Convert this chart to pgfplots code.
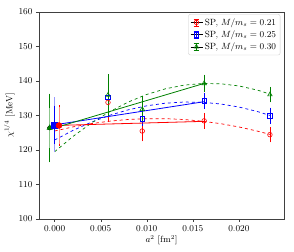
\documentclass[border=0pt]{standalone}
\usepackage{pgfplots}
\pgfplotsset{compat=1.18}
\definecolor{mgreen}{RGB}{0,128,0}
\newcommand\errleg[3]{%
  \addlegendimage{legend image code/.code={%
    \path (0cm,0cm) -- (0.42cm,0cm);
    \draw[#1, line width=0.6pt] (0.2cm,-0.12cm) -- (0.2cm,0.12cm);
    \draw[#1, line width=0.6pt] (0.1cm,-0.12cm) -- (0.3cm,-0.12cm);
    \draw[#1, line width=0.6pt] (0.1cm,0.12cm) -- (0.3cm,0.12cm);
    \draw[#1, line width=0.6pt] plot[mark=#2, mark size=#3] coordinates {(0.2cm,0cm)};
  }}}
\begin{document}
\begin{tikzpicture}
\begin{axis}[
  scale only axis, width=245pt, height=207pt,
  xmin=-0.0017, xmax=0.0249, ymin=100, ymax=160,
  xtick={0,0.005,0.01,0.015,0.02},
  scaled x ticks=false,
  xticklabel style={/pgf/number format/.cd, fixed, fixed zerofill, precision=3},
  ytick={100,110,...,160},
  tick align=outside, tick pos=left,
  major tick length=3pt,
  axis line style={black!75},
  every tick/.style={black!75},
  font=\small,
  xlabel={$a^2$ [fm$^2$]},
  ylabel={$\chi^{1/4}$ [MeV]},
  xlabel style={yshift=3pt},
  ylabel style={yshift=-3pt},
  legend style={at={(0.985,0.99)}, anchor=north east, draw=black!20, rounded corners=2pt, font=\small, cells={anchor=west}, row sep=0pt, inner sep=2pt},
]
\errleg{red}{o}{2.3pt}
\addlegendentry{SP, $M/m_s=0.21$}
\errleg{blue}{square}{2.3pt}
\addlegendentry{SP, $M/m_s=0.25$}
\errleg{mgreen}{triangle}{2.6pt}
\addlegendentry{SP, $M/m_s=0.30$}
% finite lattice spacing points
\addplot[forget plot, only marks, red, mark=o, mark size=2.3pt, mark options={line width=0.6pt},
  error bars/.cd, y dir=both, y explicit, error bar style={line width=0.6pt}, error mark options={mark size=3pt, line width=0.6pt}]
  coordinates {(0.00579,133.8) +- (0,4.8) (0.00951,125.5) +- (0,2.1) (0.01623,128.45) +- (0,1.45) (0.02337,124.45) +- (0,1.35)};
\addplot[forget plot, only marks, blue, mark=square, mark size=2.3pt, mark options={line width=0.6pt},
  error bars/.cd, y dir=both, y explicit, error bar style={line width=0.6pt}, error mark options={mark size=3pt, line width=0.6pt}]
  coordinates {(0.00579,135.3) +- (0,4.7) (0.00951,129.0) +- (0,1.2) (0.01623,134.2) +- (0,1.4) (0.02337,129.95) +- (0,1.45)};
\addplot[forget plot, only marks, mgreen, mark=triangle, mark size=2.6pt, mark options={line width=0.6pt},
  error bars/.cd, y dir=both, y explicit, error bar style={line width=0.6pt}, error mark options={mark size=3pt, line width=0.6pt}]
  coordinates {(0.00579,135.9) +- (0,5.2) (0.00951,131.8) +- (0,2.9) (0.01623,139.3) +- (0,1.7) (0.02337,136.05) +- (0,1.35)};
% quadratic fits (dashed)
\addplot[forget plot, red, dashed, line width=0.7pt] coordinates {
 (0,125.5) (0.002,126.70) (0.004,127.65) (0.006,128.37) (0.008,128.85) (0.010,129.08) (0.012,129.08)
 (0.014,128.84) (0.016,128.36) (0.018,127.64) (0.020,126.68) (0.022,125.48) (0.0234,124.50)};
\addplot[forget plot, blue, dashed, line width=0.7pt] coordinates {
 (0,122.9) (0.002,125.70) (0.004,128.09) (0.006,130.08) (0.008,131.65) (0.010,132.81) (0.012,133.56)
 (0.014,133.90) (0.016,133.83) (0.018,133.35) (0.020,132.46) (0.022,131.16) (0.0234,130.00)};
\addplot[forget plot, mgreen, dashed, line width=0.7pt] coordinates {
 (0,119.5) (0.002,123.95) (0.004,127.83) (0.006,131.15) (0.008,133.91) (0.010,136.10) (0.012,137.72)
 (0.014,138.78) (0.016,139.27) (0.018,139.20) (0.020,138.57) (0.022,137.37) (0.0234,136.19)};
% linear fits (solid)
\addplot[forget plot, red, line width=0.8pt] coordinates {(0,127.1) (0.01623,128.3)};
\addplot[forget plot, blue, line width=0.8pt] coordinates {(0,127.3) (0.01623,134.0)};
\addplot[forget plot, mgreen, line width=0.8pt] coordinates {(0,126.4) (0.01623,139.3)};
% continuum values: outer / inner error bars
\addplot[forget plot, only marks, mark=none,
  error bars/.cd, y dir=both, y explicit, error bar style={mgreen, line width=0.7pt}, error mark options={mgreen, mark size=3pt, line width=0.7pt}]
  coordinates {(-0.00054,126.4) +- (0,9.1)};
\addplot[forget plot, only marks, mark=none,
  error bars/.cd, y dir=both, y explicit, error bar style={mgreen!45, line width=0.7pt}, error mark options={mgreen!45, mark size=3pt, line width=0.7pt}]
  coordinates {(-0.00054,126.4) +- (0,4.9)};
\addplot[forget plot, only marks, mark=none,
  error bars/.cd, y dir=both, y explicit, error bar style={blue!40, line width=1.6pt}, error mark options={blue!40, mark size=3pt, line width=1pt}]
  coordinates {(0,127.3) +- (0,7.1)};
\addplot[forget plot, only marks, mark=none,
  error bars/.cd, y dir=both, y explicit, error bar style={blue, line width=0.7pt}, error mark options={blue, mark size=3pt, line width=0.7pt}]
  coordinates {(0,127.3) +- (0,4.7)};
\addplot[forget plot, only marks, mark=none,
  error bars/.cd, y dir=both, y explicit, error bar style={red, line width=0.7pt}, error mark options={red, mark size=3pt, line width=0.7pt}]
  coordinates {(0.00047,127.1) +- (0,5.0)};
\addplot[forget plot, only marks, mark=none,
  error bars/.cd, y dir=both, y explicit, error bar style={red!45, line width=0.7pt}, error mark options={red!45, mark size=3pt, line width=0.7pt}]
  coordinates {(0.00047,127.1) +- (0,4.4)};
\addplot[forget plot, only marks, mgreen, mark=triangle*, mark size=3.2pt] coordinates {(-0.00054,126.4)};
\addplot[forget plot, only marks, blue, mark=square*, mark size=3pt] coordinates {(0,127.3)};
\addplot[forget plot, only marks, red, mark=*, mark size=3pt] coordinates {(0.00047,127.1)};
\end{axis}
\pgfresetboundingbox
\path ([shift={(-39pt,-33pt)}]current axis.south west) rectangle ([shift={(10pt,12pt)}]current axis.north east);
\end{tikzpicture}
\end{document}
